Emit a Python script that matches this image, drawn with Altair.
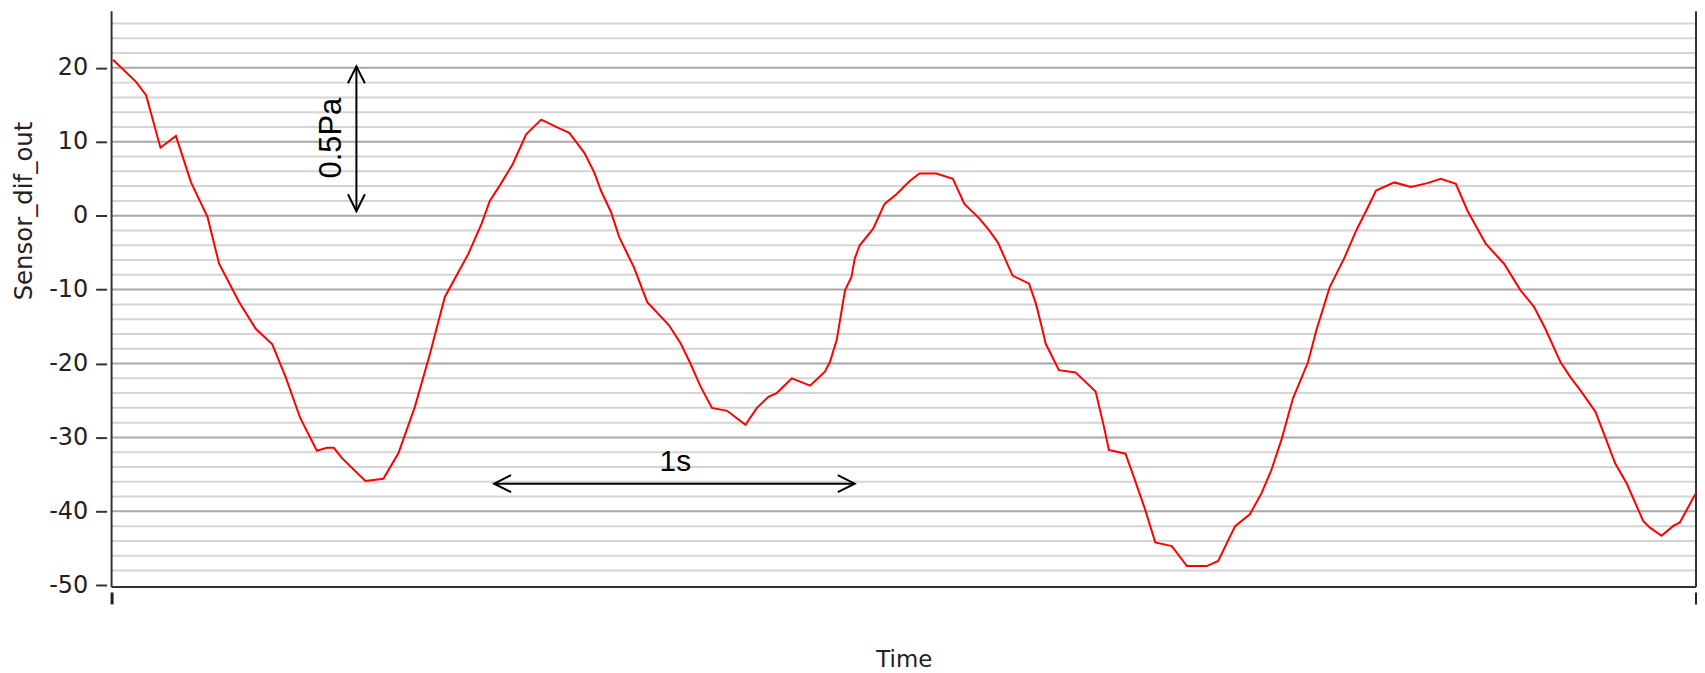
import altair as alt
import pandas as pd

# ---- data ----
time_s = [0.004, 0.068, 0.096, 0.136, 0.179, 0.221, 0.267, 0.299, 0.355, 0.401,
          0.447, 0.484, 0.525, 0.571, 0.599, 0.618, 0.641, 0.706, 0.756, 0.798,
          0.844, 0.886, 0.927, 0.992, 1.029, 1.052, 1.080, 1.116, 1.153, 1.195,
          1.241, 1.273, 1.315, 1.343, 1.361, 1.389, 1.412, 1.453, 1.490, 1.550,
          1.583, 1.610, 1.638, 1.670, 1.712, 1.763, 1.795, 1.827, 1.850, 1.892,
          1.943, 1.984, 1.998, 2.017, 2.040, 2.058, 2.067, 2.081, 2.118, 2.150,
          2.183, 2.220, 2.247, 2.294, 2.340, 2.372, 2.414, 2.441, 2.465, 2.506,
          2.552, 2.571, 2.589, 2.598, 2.635, 2.681, 2.737, 2.760, 2.774, 2.820,
          2.843, 2.875, 2.903, 2.949, 2.991, 3.046, 3.078, 3.125, 3.166, 3.199,
          3.226, 3.254, 3.286, 3.328, 3.351, 3.388, 3.430, 3.462, 3.490, 3.517,
          3.568, 3.614, 3.660, 3.697, 3.739, 3.771, 3.822, 3.873, 3.919, 3.956,
          3.988, 4.030, 4.057, 4.085, 4.127, 4.154, 4.182, 4.214, 4.260, 4.279,
          4.311, 4.343, 4.362, 4.407]

sensor = [21.1, 18.1, 16.3, 9.2, 10.8, 4.5, -0.2, -6.5, -11.7, -15.3,
          -17.4, -21.8, -27.4, -31.8, -31.4, -31.4, -32.8, -35.9, -35.6, -32.1,
          -25.8, -18.6, -11.0, -5.2, -1.1, 2.0, 4.1, 7.0, 11.0, 13.0,
          11.9, 11.2, 8.5, 5.8, 3.4, 0.5, -2.9, -7.0, -11.7, -14.8,
          -17.3, -20.0, -23.1, -26.0, -26.4, -28.3, -26.0, -24.5, -24.0, -22.0,
          -23.0, -21.1, -19.8, -16.8, -10.1, -8.3, -5.8, -4.0, -1.8, 1.6,
          2.9, 4.7, 5.7, 5.7, 5.0, 1.6, -0.4, -2.0, -3.6, -8.1,
          -9.2, -11.9, -15.4, -17.3, -20.9, -21.2, -23.8, -28.5, -31.7, -32.2,
          -35.3, -39.8, -44.2, -44.7, -47.4, -47.4, -46.7, -42.0, -40.4, -37.5,
          -34.4, -30.3, -24.7, -19.8, -15.5, -9.7, -5.6, -2.0, 0.7, 3.4,
          4.5, 3.9, 4.4, 5.0, 4.3, 0.7, -3.8, -6.5, -10.1, -12.3,
          -15.3, -19.8, -21.8, -23.6, -26.5, -29.9, -33.5, -36.2, -41.3, -42.2,
          -43.3, -42.0, -41.5, -37.5]

x_domain = [0.0, 4.407]
y_domain = [-50.23, 27.64]
y_tick_values = [-50, -40, -30, -20, -10, 0, 10, 20]
grid_major = [-40, -30, -20, -10, 0, 10, 20]
grid_minor = [-48, -46, -44, -42, -38, -36, -34, -32, -28, -26, -24, -22,
              -18, -16, -14, -12, -8, -6, -4, -2, 2, 4, 6, 8, 12, 14, 16, 18,
              22, 24, 26]

# annotation arrows (data coordinates)
h_arrow_x = [1.064, 2.067]
h_arrow_y = -36.25
v_arrow_x = 0.681
v_arrow_y = [20.2, 0.6]
label_1s = ("1s", 1.568, -34.6)
label_pa = ("0.5Pa", 0.637, 10.5)

# ---- tables ----
df = pd.DataFrame({"t": time_s, "v": sensor})
xs = alt.Scale(domain=x_domain, nice=False, zero=False)
ys = alt.Scale(domain=y_domain, nice=False, zero=False)

xa = alt.Axis(
    values=x_domain, labels=False, domain=False, grid=False,
    ticks=True, tickSize=12, tickWidth=3, tickColor="#222222", offset=5,
    title="Time", titleFont="DejaVu Sans", titleFontSize=23,
    titleFontWeight="normal", titleColor="#222222",
    titleBaseline="alphabetic", titleY=75)
ya = alt.Axis(
    values=y_tick_values, domain=False, grid=False,
    tickSize=11, tickWidth=2, tickColor="#333333", offset=5,
    labelFont="DejaVu Sans", labelFontSize=24, labelColor="#222222",
    labelPadding=8, labelExpr="'' + datum.value",
    title="Sensor_dif_out", titleFont="DejaVu Sans", titleFontSize=24.5,
    titleFontWeight="normal", titleColor="#222222",
    titleBaseline="alphabetic", titleX=-75, titleY=200)


def X(f):
    return alt.X(f, type="quantitative", scale=xs, axis=xa, title="Time")


def Y(f):
    return alt.Y(f, type="quantitative", scale=ys, axis=ya,
                 title="Sensor_dif_out")


minor = alt.Chart(pd.DataFrame({"g": grid_minor})).mark_rule(
    color="#d4d4d4", strokeWidth=2).encode(y=Y("g"))
major = alt.Chart(pd.DataFrame({"g": grid_major})).mark_rule(
    color="#a8a8a8", strokeWidth=2).encode(y=Y("g"))

frame_v = alt.Chart(pd.DataFrame({"fx": x_domain})).mark_rule(
    color="#333333", strokeWidth=2).encode(x=X("fx"))
frame_b = alt.Chart(pd.DataFrame({"fy": [y_domain[0]]})).mark_rule(
    color="#333333", strokeWidth=2).encode(y=Y("fy"))

line = alt.Chart(df).mark_line(color="#ff0000", strokeWidth=2).encode(
    x=X("t"), y=Y("v"))

h_arrow = alt.Chart(pd.DataFrame({"x": [h_arrow_x[0]], "x2": [h_arrow_x[1]],
                                  "y": [h_arrow_y]})).mark_rule(
    color="black", strokeWidth=2).encode(x=X("x"), x2="x2", y=Y("y"))
v_arrow = alt.Chart(pd.DataFrame({"x": [v_arrow_x], "y": [v_arrow_y[0]],
                                  "y2": [v_arrow_y[1]]})).mark_rule(
    color="black", strokeWidth=2).encode(x=X("x"), y=Y("y"), y2="y2")

heads = pd.DataFrame({
    "x": [h_arrow_x[0], h_arrow_x[1], v_arrow_x, v_arrow_x],
    "y": [h_arrow_y, h_arrow_y, v_arrow_y[0], v_arrow_y[1]],
    "shape": ["M2,-1L0,0L2,1", "M-2,-1L0,0L-2,1",
              "M-1,2L0,0L1,2", "M-1,-2L0,0L1,-2"],
})
arrow_heads = alt.Chart(heads).mark_point(
    filled=False, color="black", strokeWidth=2, size=289, opacity=1).encode(
    x=X("x"), y=Y("y"), shape=alt.Shape("shape:N", scale=None, legend=None))

t1 = alt.Chart(pd.DataFrame({"x": [label_1s[1]], "y": [label_1s[2]],
                             "s": [label_1s[0]]})).mark_text(
    font="Liberation Sans", fontSize=30, color="black", align="center",
    baseline="alphabetic").encode(x=X("x"), y=Y("y"), text="s:N")
t2 = alt.Chart(pd.DataFrame({"x": [label_pa[1]], "y": [label_pa[2]],
                             "s": [label_pa[0]]})).mark_text(
    font="Liberation Sans", fontSize=31, color="black", align="center",
    baseline="alphabetic", angle=270).encode(x=X("x"), y=Y("y"), text="s:N")

chart = alt.layer(minor, major, frame_v, frame_b, line, h_arrow, v_arrow,
                  arrow_heads, t1, t2).properties(
    width=1591, height=578,
    padding={"left": 104, "top": 2, "right": 1, "bottom": 85},
    autosize="none",
).configure_view(stroke=None)

chart.save("out.html", embed_options={"renderer": "svg", "actions": False})
